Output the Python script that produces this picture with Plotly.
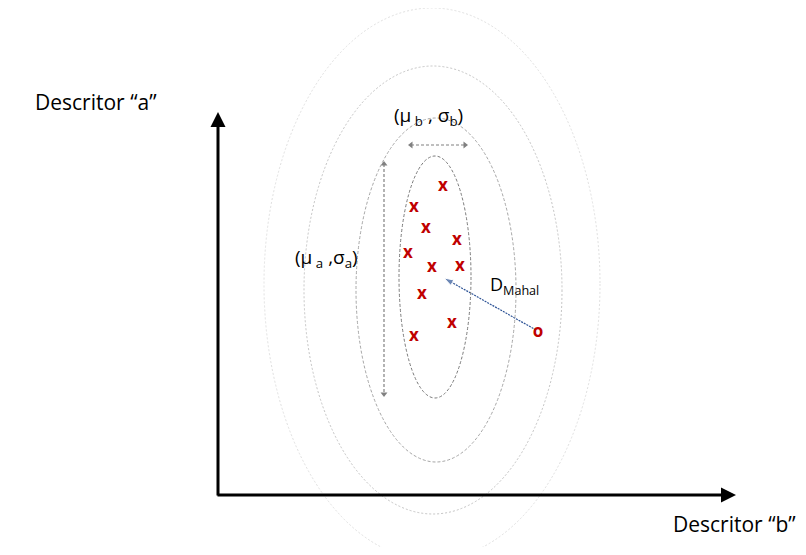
import plotly.graph_objects as go

# Diagram coordinates (canvas units, origin top-left of page)
cluster_x = [443, 414, 426, 457, 408, 432, 460, 422, 452, 414]
cluster_y = [187, 208, 229, 241, 254, 268, 267, 295, 324, 337]
outlier = (538, 333)
centre = (444, 278)

# ellipses: (cx, cy, rx, ry, color, dash)
ellipses = [
    (435, 277, 36, 121, "#7a7a7a", "3px,2px"),
    (436, 290, 80, 172, "#a6a6a6", "3px,2px"),
    (433, 290, 129, 224, "#c4c4c4", "2px,2px"),
    (432, 284, 168, 276, "#e0e0e0", "2px,2px"),
]

label_a = "Descritor “a”"
label_b = "Descritor “b”"
mu_b = "(μ<sub> b</sub> , σ<sub>b</sub>)"
mu_a = "(μ<sub> a</sub> ,σ<sub>a</sub>)"
d_mahal = "D<sub>Mahal</sub>"

FONT = "Open Sans"
PAGE_MARGIN = 8  # default body margin of the html page
W, H = 806, 555

fig = go.Figure()

shapes = []
for cx, cy, rx, ry, col, dash in ellipses:
    shapes.append(dict(type="circle", xref="x", yref="y",
                       x0=cx - rx, x1=cx + rx, y0=cy - ry, y1=cy + ry,
                       line=dict(color=col, width=1, dash=dash)))

# gray double arrows (dashed)
fig.add_trace(go.Scatter(x=[384, 384], y=[164, 394], mode="lines+markers",
                         line=dict(color="#808080", width=1.2, dash="3px,2px"),
                         marker=dict(symbol=["triangle-up", "triangle-down"], size=6, color="#808080"),
                         hoverinfo="skip"))
fig.add_trace(go.Scatter(x=[411, 465], y=[145, 145], mode="lines+markers",
                         line=dict(color="#808080", width=1.2, dash="3px,2px"),
                         marker=dict(symbol=["triangle-left", "triangle-right"], size=6, color="#808080"),
                         hoverinfo="skip"))

# blue dashed arrow from outlier to centre
fig.add_trace(go.Scatter(x=[outlier[0] - 2, centre[0]], y=[outlier[1] - 3, centre[1]],
                         mode="lines+markers",
                         line=dict(color="#2f5597", width=1.2, dash="2px,1px"),
                         marker=dict(symbol=["circle", "arrow"], size=[5, 10], color="#2f5597",
                                     angleref="previous"),
                         hoverinfo="skip"))

# cluster points
fig.add_trace(go.Scatter(x=cluster_x, y=cluster_y, mode="text", text=["<b>x</b>"] * len(cluster_x),
                         textfont=dict(color="#c00000", size=17, family=FONT),
                         hoverinfo="skip"))
fig.add_trace(go.Scatter(x=[outlier[0]], y=[outlier[1]], mode="text", text=["<b>o</b>"],
                         textfont=dict(color="#c00000", size=17, family=FONT),
                         hoverinfo="skip"))

annotations = [
    # axes arrows
    dict(x=218, y=112, ax=218, ay=497, xref="x", yref="y", axref="x", ayref="y",
         text="", showarrow=True, arrowhead=2, arrowsize=1, arrowwidth=3, arrowcolor="black"),
    dict(x=736, y=495, ax=216, ay=495, xref="x", yref="y", axref="x", ayref="y",
         text="", showarrow=True, arrowhead=2, arrowsize=1, arrowwidth=3, arrowcolor="black"),
    dict(x=33, y=102, xref="x", yref="y", text=label_a, showarrow=False, xanchor="left",
         font=dict(size=21, family=FONT, color="black")),
    dict(x=1.0, y=524, xref="paper", yref="y", text=label_b, showarrow=False, xanchor="right",
         font=dict(size=21, family=FONT, color="black")),
    dict(x=428, y=116, xref="x", yref="y", text=mu_b, showarrow=False,
         font=dict(size=19, family=FONT, color="black")),
    dict(x=326, y=258, xref="x", yref="y", text=mu_a, showarrow=False,
         font=dict(size=19, family=FONT, color="black")),
    dict(x=488, y=285, xref="x", yref="y", text=d_mahal, showarrow=False, xanchor="left",
         font=dict(size=18, family=FONT, color="black")),
]

fig.update_layout(
    width=W - 2 * PAGE_MARGIN, height=H - 2 * PAGE_MARGIN,
    margin=dict(l=0, r=0, t=0, b=0),
    paper_bgcolor="white", plot_bgcolor="white",
    showlegend=False,
    shapes=shapes,
    annotations=annotations,
    xaxis=dict(range=[PAGE_MARGIN, W - PAGE_MARGIN], visible=False, fixedrange=True),
    yaxis=dict(range=[H - PAGE_MARGIN, PAGE_MARGIN], visible=False, fixedrange=True),
)

fig.write_html("out.html")
